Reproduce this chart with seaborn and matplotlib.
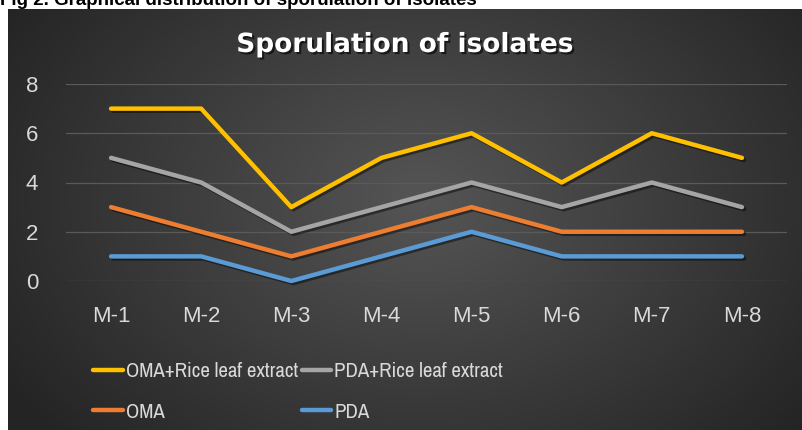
import numpy as np
import pandas as pd
import matplotlib
matplotlib.use("Agg")
import matplotlib.pyplot as plt
import matplotlib.patheffects as pe
from matplotlib import font_manager
from matplotlib.lines import Line2D
import seaborn as sns

# ---- data ----
isolates = ["M-1", "M-2", "M-3", "M-4", "M-5", "M-6", "M-7", "M-8"]
oma_rice = [7, 7, 3, 5, 6, 4, 6, 5]
pda_rice = [5, 4, 2, 3, 4, 3, 4, 3]
oma = [3, 2, 1, 2, 3, 2, 2, 2]
pda = [1, 1, 0, 1, 2, 1, 1, 1]
series_names = ["OMA+Rice leaf extract", "PDA+Rice leaf extract", "OMA", "PDA"]
series_values = [oma_rice, pda_rice, oma, pda]
colors = ["#FFC000", "#A5A5A5", "#ED7D31", "#5B9BD5"]
y_ticks = [0, 2, 4, 6, 8]
title = "Sporulation of isolates"
caption = "Fig 2. Graphical distribution of sporulation of isolates"

df = pd.DataFrame({
    "Isolate": isolates * len(series_names),
    "Value": sum(series_values, []),
    "Medium": [n for n in series_names for _ in isolates],
})

sns.set_theme(style="white")
plt.rcParams["font.family"] = ["Liberation Sans", "DejaVu Sans"]

def has_font(name):
    try:
        font_manager.findfont(name, fallback_to_default=False)
        return True
    except Exception:
        return False

narrow = "Liberation Sans"
for cand in ["Liberation Sans Narrow", "Archivo Narrow", "Roboto Condensed", "Barlow Semi Condensed"]:
    if has_font(cand):
        narrow = cand
        break

W, H = 802, 430
fig = plt.figure(figsize=(W / 100, H / 100), dpi=100)
fig.patch.set_facecolor("white")

# ---- background panel with radial gradient ----
bx0, by0 = 8, 9  # left, top in px
bg = fig.add_axes([bx0 / W, 0, 1 - bx0 / W, 1 - by0 / H], zorder=0)
ny, nx = 200, 400
yy, xx = np.mgrid[0:ny, 0:nx]
cx, cy = nx * 0.52, ny * 0.45
r = np.sqrt(((xx - cx) / (nx * 0.62)) ** 2 + ((yy - cy) / (ny * 0.85)) ** 2)
r = np.clip(r, 0, 1)
c_in = np.array([0x55, 0x55, 0x55]) / 255
c_out = np.array([0x24, 0x24, 0x24]) / 255
img = c_in[None, None, :] * (1 - r[..., None]) + c_out[None, None, :] * r[..., None]
bg.imshow(img, aspect="auto", extent=[0, 1, 0, 1], interpolation="bilinear")
bg.set_axis_off()

# ---- caption (partly cut off at the top, as in the reference) ----
fig.text(0.0, 1 - 5 / H, caption, fontsize=13.5, fontweight="bold", color="black",
         ha="left", va="baseline", zorder=5)

# ---- main axes ----
left, right = 66, 787
top, bottom = 84, 281
ax = fig.add_axes([left / W, (H - bottom) / H, (right - left) / W, (bottom - top) / H], zorder=2)
ax.set_facecolor("none")

sns.lineplot(data=df, x="Isolate", y="Value", hue="Medium", hue_order=series_names,
             palette=colors, linewidth=3.2, sort=False, ax=ax, legend=False)

for line in ax.get_lines():
    line.set_solid_capstyle("round")
    line.set_solid_joinstyle("round")
    line.set_clip_on(False)
    line.set_path_effects([pe.SimpleLineShadow(offset=(1.5, -1.5), shadow_color="black", alpha=0.45),
                           pe.Normal()])

ax.set_xlim(-0.5, len(isolates) - 0.5)
ax.set_ylim(0, 8)
ax.set_yticks(y_ticks)
ax.set_yticklabels([str(t) for t in y_ticks])
ax.set_xlabel("")
ax.set_ylabel("")
for s in ax.spines.values():
    s.set_visible(False)
ax.grid(axis="y", color="#5a5a5a", linewidth=0.9)
ax.grid(axis="x", visible=False)
ax.set_axisbelow(True)
ax.tick_params(axis="both", length=0, colors="#D9D9D9", labelsize=16)
ax.tick_params(axis="y", pad=20)
ax.tick_params(axis="x", pad=18)

# ---- title ----
fig.text(0.505, 1 - 45 / H, title, fontsize=19, fontweight="bold", color="white",
         family=["DejaVu Sans"], ha="center", va="center", zorder=5,
         path_effects=[pe.withSimplePatchShadow(offset=(1.5, -1.5), shadow_rgbFace="black", alpha=0.6)])

# ---- legend ----
handles = [Line2D([], [], color=c, linewidth=3.2, solid_capstyle="round") for c in colors]
order = [0, 2, 1, 3]
leg = fig.legend([handles[i] for i in order], [series_names[i] for i in order],
                 ncol=2, loc="upper left", bbox_to_anchor=(83 / W, 1 - 352 / H),
                 frameon=False, borderpad=0, handlelength=1.4, handletextpad=0.15,
                 columnspacing=0.2, labelspacing=1.02,
                 prop={"family": narrow, "size": 15})
for t in leg.get_texts():
    t.set_color("#D9D9D9")
leg.set_zorder(6)

fig.savefig("out.png", dpi=100, facecolor="white")
